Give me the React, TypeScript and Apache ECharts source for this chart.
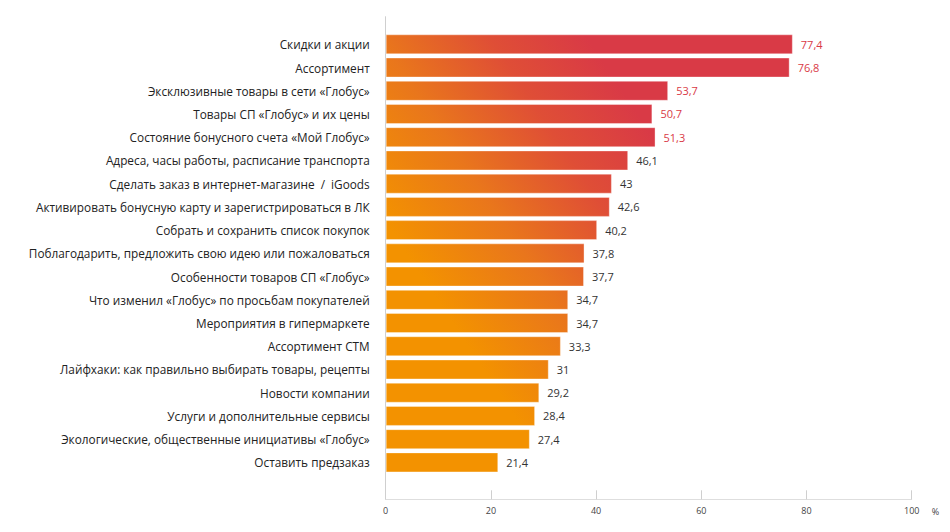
import React, { useEffect, useRef } from 'react';
import * as echarts from 'echarts';

const categories = [
  'Скидки и акции',
  'Ассортимент',
  'Эксклюзивные товары в сети «Глобус»',
  'Товары СП «Глобус» и их цены',
  'Состояние бонусного счета «Мой Глобус»',
  'Адреса, часы работы, расписание транспорта',
  'Сделать заказ в интернет-магазине  /  iGoods',
  'Активировать бонусную карту и зарегистрироваться в ЛК',
  'Собрать и сохранить список покупок',
  'Поблагодарить, предложить свою идею или пожаловаться',
  'Особенности товаров СП «Глобус»',
  'Что изменил «Глобус» по просьбам покупателей',
  'Мероприятия в гипермаркете',
  'Ассортимент СТМ',
  'Лайфхаки: как правильно выбирать товары, рецепты',
  'Новости компании',
  'Услуги и дополнительные сервисы',
  'Экологические, общественные инициативы «Глобус»',
  'Оставить предзаказ',
];

const values = [77.4, 76.8, 53.7, 50.7, 51.3, 46.1, 43, 42.6, 40.2, 37.8, 37.7, 34.7, 34.7, 33.3, 31, 29.2, 28.4, 27.4, 21.4];

const xTicks = [0, 20, 40, 60, 80, 100];

const FONT = '"Open Sans", "Noto Sans", sans-serif';

const App: React.FC = () => {
  const chartRef = useRef<HTMLDivElement | null>(null);

  useEffect(() => {
    if (!chartRef.current) return;
    const chart = echarts.init(chartRef.current, undefined, { renderer: 'svg' });

    // one gradient for all bars, in page pixels: orange bottom-left, red top-right
    const barColor = new echarts.graphic.LinearGradient(
      387, 224, 612, 75,
      [
        { offset: 0, color: '#f39200' },
        { offset: 0.36, color: '#e9761c' },
        { offset: 0.7, color: '#df4e36' },
        { offset: 1, color: '#d93a46' },
      ],
      true
    );

    const option = {
      animation: false,
      textStyle: { fontFamily: FONT },
      grid: [
        { left: 385.7, right: 38.3, top: 32.7, bottom: 58 },
        { left: 385.7, right: 38.3, top: 16.7, bottom: 32.7 },
      ],
      xAxis: [
        {
          gridIndex: 0,
          type: 'value',
          min: xTicks[0],
          max: xTicks[xTicks.length - 1],
          show: false,
        },
        {
          gridIndex: 1,
          type: 'value',
          min: xTicks[0],
          max: xTicks[xTicks.length - 1],
          interval: 20,
          name: '%',
          nameLocation: 'end',
          nameGap: 20,
          nameTextStyle: { color: '#444', fontSize: 9, verticalAlign: 'top', padding: [8, 0, 0, 0] },
          axisLine: { show: true, lineStyle: { color: '#dedede', width: 1 } },
          axisTick: { show: true, inside: true, length: 9, lineStyle: { color: '#cfcfcf' } },
          axisLabel: { color: '#444', fontSize: 9, margin: 7 },
          splitLine: { show: false },
        },
      ],
      yAxis: [
        {
          gridIndex: 0,
          type: 'category',
          data: categories,
          inverse: true,
          axisLine: { show: false },
          axisTick: { show: false },
          axisLabel: { color: '#222', fontSize: 11.8, margin: 16 },
        },
        {
          gridIndex: 1,
          type: 'value',
          min: 0,
          max: 1,
          axisLine: { show: true, lineStyle: { color: '#cfcfcf', width: 1 } },
          axisTick: { show: false },
          axisLabel: { show: false },
          splitLine: { show: false },
        },
      ],
      series: [
        {
          type: 'bar',
          xAxisIndex: 0,
          yAxisIndex: 0,
          data: values.map((v) => ({
            value: v,
            label: { color: v > 50 ? '#d93a46' : '#333' },
          })),
          barWidth: 20,
          itemStyle: {
            color: barColor,
            borderColor: 'rgba(255,255,255,0.35)',
            borderWidth: 1,
          },
          label: {
            show: true,
            position: 'right',
            distance: 8,
            fontSize: 11,
            formatter: (p: any) => String(p.value).replace('.', ','),
          },
        },
      ],
    };

    chart.setOption(option);
    return () => {
      chart.dispose();
    };
  }, []);

  return (
    <div
      ref={chartRef}
      style={{ position: 'fixed', left: 0, top: 0, width: '950px', height: '532px', background: '#fff' }}
    />
  );
};

export default App;
